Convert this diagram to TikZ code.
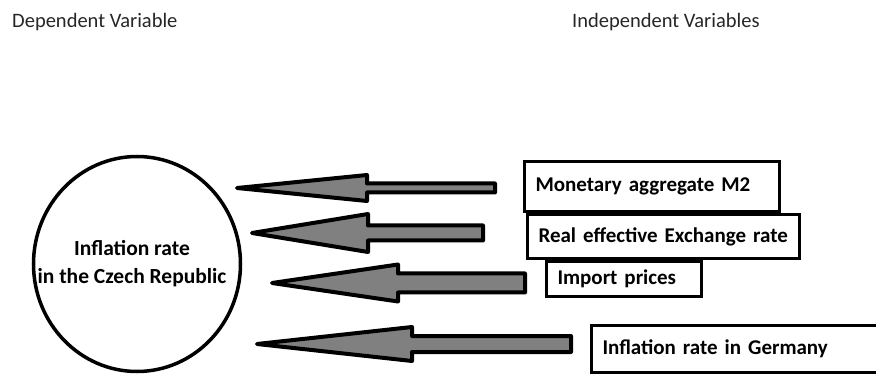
\documentclass[tikz,border=0pt]{standalone}
\usepackage{fontspec}
\setmainfont{Carlito}
\usetikzlibrary{calc,shapes.geometric}

% block arrow: tail, tip, head length, shaft half width, head half width
\newcommand{\blockarrow}[5]{%
  \draw[blockarrow] (#1) ++(0,#4) -- ($(#2)+(#3,#4)$) -- ($(#2)+(#3,#5)$)
    -- (#2) -- ($(#2)+(#3,-#5)$) -- ($(#2)+(#3,-#4)$) -- ($(#1)+(0,-#4)$) -- cycle;}

\begin{document}
\begin{tikzpicture}[x=1pt,y=-1pt,
    title/.style={anchor=west,inner sep=0pt,text=black!85,font=\fontsize{20.5}{24}\selectfont},
    varbox/.style={draw,line width=3,anchor=north west,inner xsep=11,align=left,
                   font=\bfseries\fontsize{21}{24}\selectfont},
    blockarrow/.style={draw,line width=4,fill=black!50,line join=round}]
  \clip (0,0) rectangle (876,374);

  \node[title] (dep) at (12,22) {Dependent Variable};
  \node[title] (indep) at (572,22) {Independent Variables};

  \node[draw,ellipse,line width=3.5,inner sep=0pt,minimum width=207,minimum height=215]
       (infl) at (137,264) {};
  \node[align=center,font=\bfseries\fontsize{21.5}{28}\selectfont] (infltext)
       at ($(infl.center)+(-5,0)$) {Inflation rate\\in the Czech Republic};

  \node[varbox,minimum width=255,minimum height=50,text width=233] (m2) at (523,160)
       {Monetary aggregate M2};
  \node[varbox,minimum width=272,minimum height=44,text width=250] (reer) at (526,213)
       {Real effective Exchange rate};
  \node[varbox,minimum width=155,minimum height=35,text width=133,inner ysep=1] (imp) at (545,260)
       {Import prices\\[-6pt]};
  \node[varbox,minimum width=320,minimum height=47,text width=298] (ger) at (590,324)
       {Inflation rate in Germany};

  \coordinate (t1) at (495,188); \coordinate (h1) at (237,188);
  \coordinate (t2) at (483,233); \coordinate (h2) at (252,233);
  \coordinate (t3) at (525,283); \coordinate (h3) at (272,283);
  \coordinate (t4) at (571,344); \coordinate (h4) at (257,344);

  \blockarrow{t1}{h1}{130}{4.5}{13}
  \blockarrow{t2}{h2}{116}{7.5}{19}
  \blockarrow{t3}{h3}{126}{9.5}{18.5}
  \blockarrow{t4}{h4}{155}{8}{17}
\end{tikzpicture}
\end{document}
